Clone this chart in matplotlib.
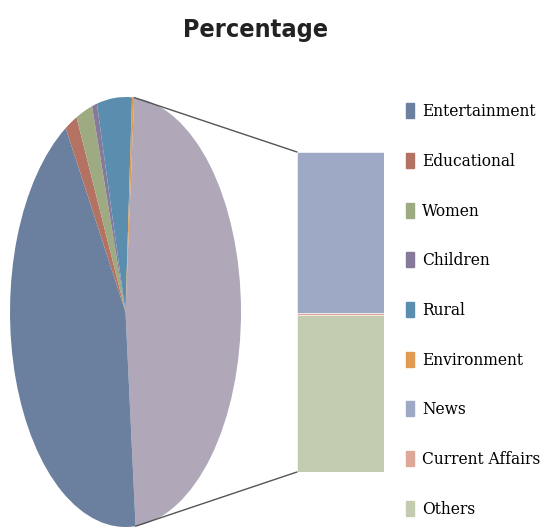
import matplotlib
matplotlib.use('Agg')
import numpy as np
from matplotlib import pyplot as plt
from matplotlib.patches import Rectangle, ConnectionPatch
from matplotlib import font_manager

# data (percent)
pie_labels = ['Entertainment', 'Educational', 'Women', 'Children', 'Rural', 'Environment']
pie_values = [42.9, 1.7, 2.3, 0.7, 4.9, 0.3]
bar_labels = ['News', 'Current Affairs', 'Others']
bar_values = [24.0, 0.3, 23.3]

pie_colors = ['#6b7f9f', '#b37262', '#9eab82', '#86799a', '#5b8eae', '#e09a52']
bar_colors = ['#9ea9c6', '#dea898', '#c3ccb0']
other_color = '#b0a8b9'

# look for a narrow bold sans for the title
title_prop = None
for f in font_manager.fontManager.ttflist:
    nm = (f.name + ' ' + f.fname).lower()
    if ('narrow' in nm or 'condensed' in nm) and f.weight in ('bold', 700, 'semibold', 600):
        title_prop = font_manager.FontProperties(fname=f.fname, size=18)
        break
if title_prop is None:
    title_prop = font_manager.FontProperties(family='DejaVu Sans', weight='bold', size=15)

W, H = 552, 527
fig = plt.figure(figsize=(W / 100, H / 100), dpi=100)

# pie of pie, stretched into an ellipse
ax1 = fig.add_axes([10 / W, 0 / H, 231 / W, 430 / H])
other = sum(bar_values)
vals = [other] + pie_values
cols = [other_color] + pie_colors
wedges, _ = ax1.pie(vals, colors=cols, startangle=other * 3.6 / 2, counterclock=False,
                    radius=1, wedgeprops=dict(linewidth=0))
ax1.set_aspect('auto')
ax1.set_xlim(-1, 1)
ax1.set_ylim(-1, 1)
ax1.axis('off')

# stacked bar for the split-out part
ax2 = fig.add_axes([297 / W, 55 / H, 87 / W, 320 / H])
bottom = 0
for lab, v, c in zip(bar_labels[::-1], bar_values[::-1], bar_colors[::-1]):
    ax2.bar(0, v, width=1, bottom=bottom, color=c, edgecolor='white', linewidth=0.4)
    bottom += v
ax2.set_xlim(-0.5, 0.5)
ax2.set_ylim(0, other)
ax2.axis('off')

# connector lines
w = wedges[0]
for ang, yb in [(w.theta1, 0), (w.theta2, other)]:
    xa, ya = np.cos(np.radians(ang)), np.sin(np.radians(ang))
    con = ConnectionPatch(xyA=(xa, ya), coordsA=ax1.transData,
                          xyB=(-0.5, yb), coordsB=ax2.transData,
                          color='#555555', linewidth=1)
    fig.add_artist(con)

handles = [Rectangle((0, 0), 1, 1, color=c) for c in pie_colors + bar_colors]
fig.legend(handles, pie_labels + bar_labels, loc='upper left',
           bbox_to_anchor=(400 / W, 1 - 97 / H), frameon=False,
           prop={'family': 'DejaVu Serif', 'size': 11.2},
           handlelength=0.5, handleheight=1.1, handletextpad=0.5,
           labelspacing=2.1, borderaxespad=0)

fig.text(256 / W, 1 - 30 / H, 'Percentage', ha='center', va='center',
         fontproperties=title_prop, color='#222222')

fig.savefig('out.png', dpi=100)
